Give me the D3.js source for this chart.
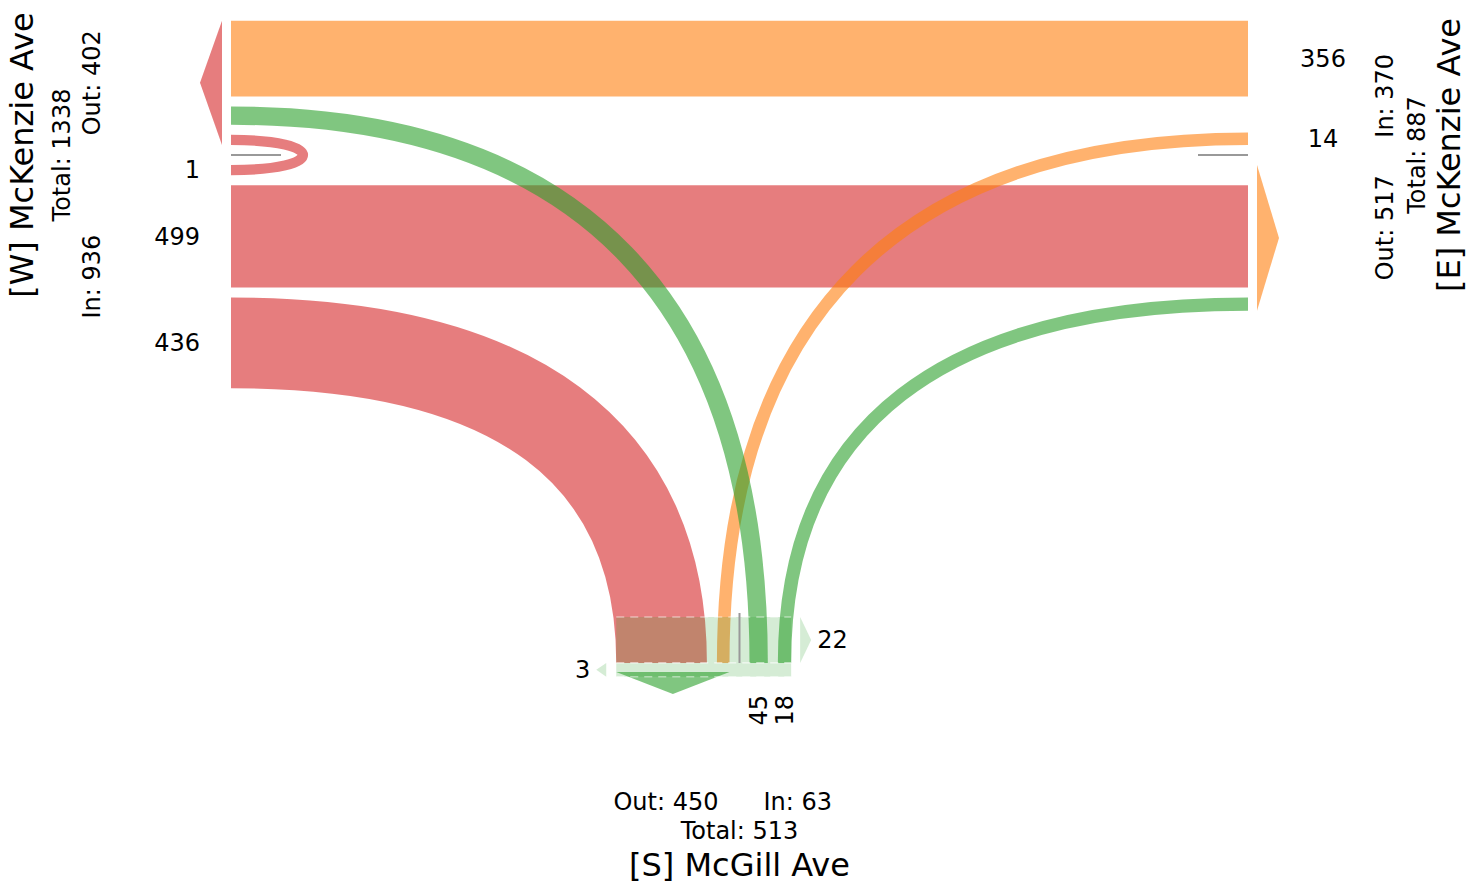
<!DOCTYPE html>
<html><head><meta charset="utf-8">
<script src="https://cdn.jsdelivr.net/npm/d3@7"></script>
<style>
html,body{margin:0;padding:0;background:#fff;overflow:hidden;}
text{font-family:"DejaVu Sans",sans-serif;fill:#000;}
</style></head><body>
<svg id="chart" width="1481" height="884"></svg>
<script>
// ---------- DATA ----------
const approachIds    = ["W", "E", "S"];
const approachNames  = ["[W] McKenzie Ave", "[E] McKenzie Ave", "[S] McGill Ave"];
const approachColors = ["#d62728", "#ff7f0e", "#2ca02c"];
// turning movements (origin approach -> destination approach)
const moveFrom   = ["W", "W", "W", "E", "E", "S", "S"];
const moveTo     = ["W", "E", "S", "W", "S", "W", "E"];
const moveVolume = [1, 499, 436, 356, 14, 45, 18];
// pedestrians crossing the south leg
const pedDirections = ["EB", "WB"];
const pedVolumes    = [22, 3];

// ---------- LAYOUT ----------
const svg = d3.select("#chart");
const GAP = 10, K = 0.66, UTURN_REACH = 96, ARROW_GAP = 9, ARROW_LEN = 22, MEDIAN_LEN = 50;
const X0 = 231, X1 = 1248, MY = 155, SY = 663, MX = (X0 + X1) / 2;
const bandW = d3.scaleLinear().domain([0, 500]).range([10, 102.5]);
const pedW  = d3.scaleLinear().domain([0, 22]).range([8.6, 46]);
const alpha = 0.6;
const colorOf = d3.scaleOrdinal().domain(approachIds).range(approachColors);
const nameOf  = d3.scaleOrdinal().domain(approachIds).range(approachNames);

const bearing = {N: 0, E: 90, S: 180, W: 270};
const geo = {
  W: {orient: "h", end: X0, median: MY, inSign: 1,  outSign: -1, interior: 1,
      lab: {anchor: "end", off: 31}, txt: {inout: X0 - 131, total: X0 - 161, title: X0 - 198}},
  E: {orient: "h", end: X1, median: MY, inSign: -1, outSign: 1,  interior: -1,
      lab: {anchor: "middle", off: 75}, txt: {inout: X1 + 145, total: X1 + 177, title: X1 + 212}},
  S: {orient: "v", end: SY, median: MX, inSign: 1,  outSign: -1, interior: -1,
      lab: {anchor: "end", off: 32}, txt: {inout: SY + 147, total: SY + 176, title: SY + 213}}
};

const turnRank = {180: 0, 270: 1, 0: 2, 90: 3}; // U, left, through, right
const moves = moveFrom.map((f, i) => {
  const t = moveTo[i];
  const ang = (((bearing[t] - (bearing[f] + 180)) % 360) + 360) % 360;
  return {from: f, to: t, v: moveVolume[i], turn: turnRank[ang], width: bandW(moveVolume[i])};
});

function stackOf(list, forced) {
  let off = GAP; const pos = new Map();
  list.forEach(m => {
    if (forced && forced.has(m)) off = Math.max(off, forced.get(m));
    pos.set(m, {start: off});
    off += m.width + GAP;
  });
  return {pos, outer: list.length ? off - GAP : 0};
}
const inList  = id => moves.filter(m => m.from === id).sort((a, b) => a.turn - b.turn);
const outList = id => moves.filter(m => m.to === id).sort((a, b) => a.turn - b.turn);
const natural = {};
approachIds.forEach(id => natural[id] = {in: stackOf(inList(id)), out: stackOf(outList(id))});
const forced = new Map();
moves.filter(m => m.turn === 2).forEach(m =>
  forced.set(m, Math.max(natural[m.from].in.pos.get(m).start, natural[m.to].out.pos.get(m).start)));
const fin = {};
approachIds.forEach(id => fin[id] = {in: stackOf(inList(id), forced), out: stackOf(outList(id), forced)});

function slotCenter(id, side, m) {
  const g = geo[id], s = fin[id][side].pos.get(m);
  return g.median + (side === "in" ? g.inSign : g.outSign) * (s.start + m.width / 2);
}
function endPoint(id, c) { const g = geo[id]; return g.orient === "h" ? [g.end, c] : [c, g.end]; }

function flowPath(m) {
  const ga = geo[m.from], gb = geo[m.to];
  const [ax, ay] = endPoint(m.from, slotCenter(m.from, "in", m));
  const [bx, by] = endPoint(m.to, slotCenter(m.to, "out", m));
  const p = d3.path(); p.moveTo(ax, ay);
  if (m.from === m.to) {
    if (ga.orient === "h") p.bezierCurveTo(ax + ga.interior * UTURN_REACH, ay, bx + ga.interior * UTURN_REACH, by, bx, by);
    else p.bezierCurveTo(ax, ay + ga.interior * UTURN_REACH, bx, by + ga.interior * UTURN_REACH, bx, by);
  } else if (ga.orient === "h" && gb.orient === "h") {
    const xm = (ax + bx) / 2; p.bezierCurveTo(xm, ay, xm, by, bx, by);
  } else if (ga.orient === "h") {
    p.bezierCurveTo(ax + K * (bx - ax), ay, bx, by + K * (ay - by), bx, by);
  } else if (gb.orient === "h") {
    p.bezierCurveTo(ax, ay + K * (by - ay), bx + K * (ax - bx), by, bx, by);
  } else {
    const ym = (ay + by) / 2; p.bezierCurveTo(ax, ym, bx, ym, bx, by);
  }
  return p.toString();
}

// ---------- FLOWS ----------
const gFlows = svg.append("g");
approachIds.forEach(id => {
  gFlows.selectAll(null).data(moves.filter(m => m.from === id)).enter().append("path")
    .attr("d", flowPath).attr("fill", "none")
    .attr("stroke", m => colorOf(m.from)).attr("stroke-opacity", alpha)
    .attr("stroke-width", m => m.width);
});

// ---------- OUTBOUND ARROWS ----------
const line = d3.line();
approachIds.forEach(id => {
  const g = geo[id], outer = fin[id].out.outer;
  if (!outer) return;
  const a = g.median + g.outSign * GAP, b = g.median + g.outSign * outer, mid = (a + b) / 2;
  const base = g.end - g.interior * ARROW_GAP, tip = g.end - g.interior * (ARROW_GAP + ARROW_LEN);
  const pts = g.orient === "h" ? [[base, a], [tip, mid], [base, b]] : [[a, base], [mid, tip], [b, base]];
  svg.append("path").attr("d", line(pts) + "Z").attr("fill", colorOf(id)).attr("fill-opacity", alpha);
});

// ---------- PEDESTRIAN CROSSWALK (S leg) ----------
const cwLeft = MX - fin.S.out.outer, cwRight = MX + fin.S.in.outer;
const gPed = svg.append("g");
pedDirections.forEach((dir, i) => {
  const h = pedW(pedVolumes[i]);
  const y0 = dir === "EB" ? SY - h : SY;
  gPed.append("rect").attr("x", cwLeft).attr("y", y0).attr("width", cwRight - cwLeft).attr("height", h)
    .attr("fill", "#2ca02c").attr("fill-opacity", 0.2);
  [y0, y0 + h].forEach(yy => gPed.append("path").attr("d", line([[cwLeft, yy], [cwRight, yy]]))
    .attr("stroke", "#fff").attr("stroke-opacity", 0.45).attr("stroke-width", 1.5)
    .attr("stroke-dasharray", "8,6").attr("fill", "none"));
  let base, tip, tx, anchor;
  if (dir === "EB") { base = cwRight + 9; tip = base + 11; tx = tip + 6; anchor = "start"; }
  else { base = cwLeft - 10; tip = base - 10; tx = tip - 6; anchor = "end"; }
  gPed.append("path").attr("d", line([[base, y0], [tip, y0 + h / 2], [base, y0 + h]]) + "Z")
    .attr("fill", "#2ca02c").attr("fill-opacity", 0.2);
  gPed.append("text").attr("x", tx).attr("y", y0 + h / 2).attr("dy", "0.35em")
    .attr("text-anchor", anchor).attr("font-size", 24).text(pedVolumes[i]);
});

// ---------- MEDIAN LINES ----------
approachIds.forEach(id => {
  const g = geo[id];
  const pts = g.orient === "h"
    ? [[g.end, g.median], [g.end + g.interior * MEDIAN_LEN, g.median]]
    : [[g.median, g.end], [g.median, g.end + g.interior * MEDIAN_LEN]];
  svg.append("path").attr("d", line(pts)).attr("stroke", "#999").attr("stroke-width", 2).attr("fill", "none");
});

// ---------- MOVEMENT LABELS ----------
moves.forEach(m => {
  const g = geo[m.from], c = slotCenter(m.from, "in", m);
  const pos = g.end - g.interior * g.lab.off;
  if (g.orient === "h") {
    svg.append("text").attr("x", pos).attr("y", c).attr("dy", "0.35em")
      .attr("text-anchor", g.lab.anchor).attr("font-size", 24).text(m.v);
  } else {
    svg.append("text").attr("transform", `translate(${c},${pos}) rotate(-90)`).attr("dy", "0.35em")
      .attr("text-anchor", g.lab.anchor).attr("font-size", 24).text(m.v);
  }
});

// ---------- APPROACH LABELS ----------
function placeText(g, along, across, str, size, anchor) {
  const t = svg.append("text").attr("font-size", size).attr("text-anchor", anchor || "middle").text(str);
  if (g.orient === "h") t.attr("transform", `translate(${across},${along}) rotate(-90)`);
  else t.attr("x", along).attr("y", across);
  return t;
}
approachIds.forEach(id => {
  const g = geo[id];
  const inTot = d3.sum(moves.filter(m => m.from === id), m => m.v);
  const outTot = d3.sum(moves.filter(m => m.to === id), m => m.v);
  const inC = g.median + g.inSign * (GAP + natural[id].in.outer) / 2;
  const outC = g.median + g.outSign * (GAP + natural[id].out.outer) / 2;
  const tIn = placeText(g, inC, g.txt.inout, "In: " + inTot, 24);
  const tOut = placeText(g, outC, g.txt.inout, "Out: " + outTot, 24);
  const wIn = tIn.node().getComputedTextLength(), wOut = tOut.node().getComputedTextLength();
  const nearIn = Math.abs(inC - g.median) - wIn / 2, nearOut = Math.abs(outC - g.median) - wOut / 2;
  if (Math.min(nearIn, nearOut) < 12) { // push both away from the median
    tIn.remove(); tOut.remove();
    placeText(g, g.median + g.inSign * 24, g.txt.inout, "In: " + inTot, 24, "start");
    placeText(g, g.median + g.outSign * 21, g.txt.inout, "Out: " + outTot, 24, "end");
  }
  placeText(g, g.median, g.txt.total, "Total: " + (inTot + outTot), 24);
  placeText(g, g.median, g.txt.title, nameOf(id), 32);
});
</script>
</body></html>
